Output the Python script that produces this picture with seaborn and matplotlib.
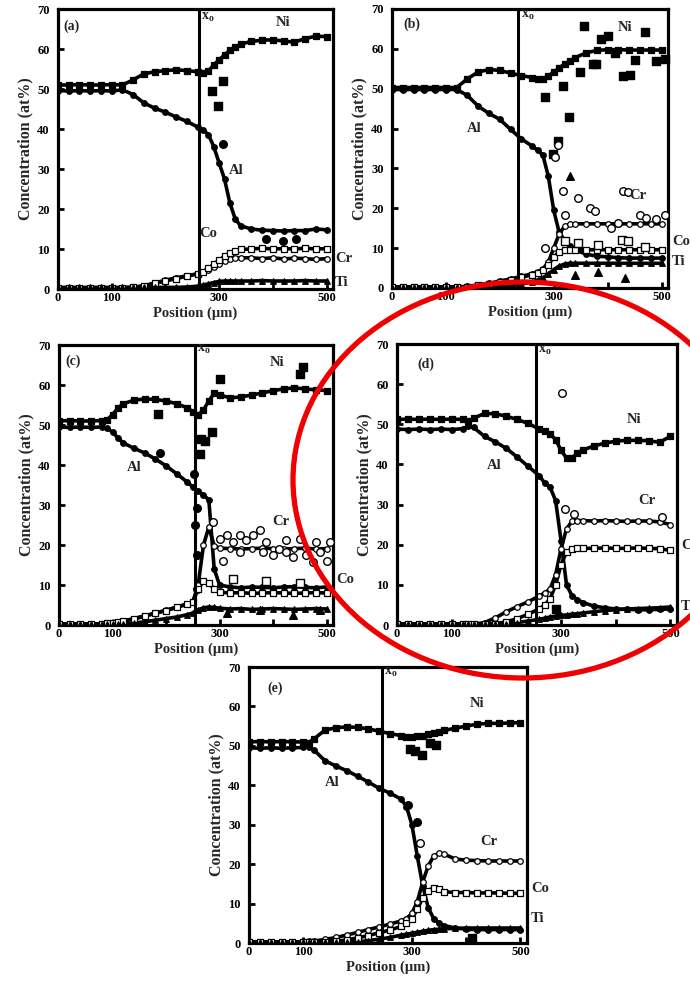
import matplotlib
matplotlib.use("Agg")
import matplotlib.pyplot as plt
import seaborn as sns
import pandas as pd
from matplotlib.patches import Ellipse

# ---------------- data ----------------
ELEMENTS = ["Ni", "Al", "Cr", "Co", "Ti"]
XTICK_LABELS = ["0", "100", "", "300", "", "500"]

# panel (a)
A_X = [0, 20, 40, 60, 80, 100, 120, 140, 160, 180, 200, 220, 240, 260, 270,
       280, 290, 300, 310, 320, 330, 340, 360, 380, 400, 420, 440, 460, 480, 500]
A_NI = [51.0, 51.0, 51.1, 51.0, 51.0, 51.1, 51.0, 52.3, 53.8, 54.3, 54.6, 54.8, 54.6, 54.3, 54.0,
        54.5, 56.0, 57.3, 58.5, 59.7, 60.5, 61.2, 61.9, 62.2, 62.3, 62.0, 61.7, 62.6, 63.2, 63.1]
A_AL = [49.6, 49.5, 49.6, 49.5, 49.6, 49.5, 49.8, 48.6, 46.5, 45.2, 44.2, 43.0, 41.9, 40.5, 39.8,
        38.6, 35.6, 31.5, 27.5, 21.5, 17.5, 15.8, 15.0, 14.7, 14.6, 14.5, 14.6, 14.6, 15.0, 14.8]
A_CR = [0.3, 0.3, 0.3, 0.3, 0.3, 0.3, 0.3, 0.4, 0.8, 1.5, 2.2, 2.8, 3.3, 3.8, 4.2,
        4.8, 5.5, 6.3, 7.0, 7.5, 7.8, 7.8, 7.8, 7.6, 7.8, 7.5, 7.7, 7.6, 7.4, 7.6]
A_CO = [0.3, 0.3, 0.3, 0.3, 0.3, 0.3, 0.3, 0.4, 0.8, 1.4, 2.0, 2.6, 3.2, 3.8, 4.3,
        5.2, 6.2, 7.2, 8.2, 9.0, 9.6, 9.9, 10.0, 10.2, 10.0, 10.1, 10.0, 10.2, 10.0, 10.1]
A_TI = [0.4, 0.4, 0.4, 0.4, 0.4, 0.4, 0.4, 0.4, 0.4, 0.4, 0.4, 0.4, 0.5, 0.7, 1.0,
        1.3, 1.6, 1.9, 2.0, 2.0, 2.0, 2.0, 2.0, 2.1, 2.0, 2.0, 2.0, 2.1, 2.0, 2.0]
A_OUT_EL = ["Ni", "Ni", "Ni", "Al", "Al", "Al", "Al"]
A_OUT_X = [287, 298, 307, 307, 388, 419, 444]
A_OUT_Y = [49.6, 45.8, 52.1, 36.2, 12.5, 12.1, 12.5]

# panel (b)
B_X = [0, 20, 40, 60, 80, 100, 120, 140, 160, 180, 200, 220, 240, 260, 270,
       280, 290, 300, 310, 320, 330, 340, 360, 380, 400, 420, 440, 460, 480, 500]
B_NI = [50.3, 50.3, 50.3, 50.3, 50.3, 50.3, 50.3, 52.5, 54.2, 54.8, 54.6, 53.9, 53.3, 52.8, 52.4,
        52.5, 53.2, 54.2, 55.2, 56.2, 57.0, 57.8, 59.0, 59.6, 59.8, 59.8, 59.7, 59.7, 59.7, 59.7]
B_AL = [49.8, 49.8, 49.8, 49.8, 49.8, 49.8, 49.8, 48.3, 45.6, 43.8, 42.3, 39.8, 37.4, 35.6, 34.6,
        33.3, 28.0, 19.5, 14.0, 12.0, 10.5, 9.5, 8.5, 8.0, 7.8, 7.6, 7.5, 7.5, 7.5, 7.5]
B_CR = [0.3, 0.3, 0.3, 0.3, 0.3, 0.3, 0.3, 0.4, 0.8, 1.2, 1.7, 2.3, 2.9, 3.6, 4.0,
        4.8, 6.5, 10.0, 13.5, 15.5, 16.0, 16.1, 16.1, 16.1, 16.1, 16.1, 16.1, 16.1, 16.1, 16.1]
B_CO = [0.3, 0.3, 0.3, 0.3, 0.3, 0.3, 0.3, 0.3, 0.7, 1.1, 1.6, 2.1, 2.7, 3.3, 3.7,
        4.4, 5.8, 7.8, 9.0, 9.5, 9.6, 9.6, 9.6, 9.6, 9.6, 9.6, 9.6, 9.6, 9.6, 9.6]
B_TI = [0.2, 0.2, 0.2, 0.2, 0.2, 0.2, 0.2, 0.2, 0.2, 0.2, 0.3, 0.5, 1.0, 1.5, 2.0,
        2.5, 3.5, 4.6, 5.5, 6.0, 6.2, 6.2, 6.2, 6.2, 6.2, 6.2, 6.2, 6.2, 6.2, 6.2]
B_OUT_EL = (["Ni"] * 18) + (["Cr"] * 16) + (["Ti"] * 4) + (["Co"] * 6)
B_OUT_X = [284, 318, 328, 299, 308, 357, 349, 373, 379, 387, 401, 429, 441, 450, 469, 490, 506, 413,
           318, 345, 321, 367, 376, 407, 419, 429, 438, 460, 472, 490, 506, 302, 308, 284,
           330, 339, 382, 432,
           321, 345, 382, 426, 438, 469]
B_OUT_Y = [48.0, 50.7, 42.9, 33.6, 37.0, 65.8, 54.1, 56.3, 56.3, 62.4, 63.2, 53.3, 53.5, 57.3, 64.2, 56.9, 57.5, 59.0,
           24.3, 22.7, 18.4, 20.1, 19.3, 15.0, 16.3, 24.3, 24.2, 18.4, 17.6, 17.2, 18.4, 32.8, 35.8, 10.0,
           28.1, 3.2, 4.1, 2.4,
           11.7, 11.2, 10.8, 12.1, 11.7, 10.4]

# panel (c)
C_X = [0, 20, 40, 60, 80, 90, 100, 110, 120, 140, 160, 180, 200, 220, 240, 250,
       260, 270, 280, 290, 300, 320, 340, 360, 380, 400, 420, 440, 460, 480, 500]
C_NI = [51.0, 51.1, 51.0, 51.0, 51.1, 51.3, 52.6, 54.2, 55.3, 56.2, 56.5, 56.4, 56.0, 55.3, 54.3, 53.3,
        52.5, 53.8, 56.0, 58.0, 57.5, 56.8, 57.0, 57.5, 58.0, 58.6, 59.0, 59.3, 59.0, 58.8, 58.6]
C_AL = [49.5, 49.4, 49.5, 49.4, 49.5, 49.2, 48.2, 46.8, 45.5, 44.2, 43.0, 41.5, 39.8, 37.8, 35.7, 34.5,
        33.5, 32.5, 31.3, 14.0, 10.0, 9.5, 9.3, 9.5, 9.4, 9.3, 9.5, 9.6, 9.4, 9.3, 9.5]
C_CR = [0.3, 0.3, 0.3, 0.3, 0.3, 0.4, 0.6, 0.8, 1.0, 1.6, 2.3, 3.0, 3.7, 4.5, 5.3, 5.8,
        10.0, 20.0, 24.5, 19.8, 19.2, 19.1, 19.0, 19.1, 19.2, 19.1, 19.0, 19.1, 19.2, 19.0, 19.1]
C_CO = [0.3, 0.3, 0.3, 0.3, 0.3, 0.4, 0.6, 0.8, 1.0, 1.5, 2.2, 2.9, 3.6, 4.4, 5.2, 5.7,
        9.0, 11.0, 10.5, 9.0, 8.2, 8.0, 8.1, 7.9, 8.0, 8.1, 8.0, 7.9, 8.0, 8.1, 8.0]
C_TI = [0.2, 0.2, 0.2, 0.2, 0.2, 0.2, 0.2, 0.2, 0.2, 0.5, 0.8, 1.2, 1.6, 2.0, 2.6, 3.0,
        3.8, 4.3, 4.5, 4.4, 4.2, 4.0, 4.1, 3.9, 4.0, 4.1, 4.0, 3.9, 4.0, 4.1, 4.0]
C_OUT_EL = (["Cr"] * 24) + (["Ni"] * 8) + (["Al"] * 6) + (["Co"] * 3) + (["Ti"] * 4)
C_OUT_X = [288, 300, 313, 325, 338, 350, 363, 375, 381, 387, 400, 412, 425, 437, 450, 462, 475, 487, 500,
           306, 338, 425, 481, 506,
           185, 263, 266, 272, 285, 300, 456, 450,
           188, 253, 255, 257, 258, 257,
           325, 387, 450,
           313, 375, 437, 487]
C_OUT_Y = [25.8, 21.6, 22.4, 20.7, 22.4, 21.2, 22.4, 23.7, 18.2, 20.7, 17.4, 19.1, 18.2, 16.9, 21.6, 17.4, 15.7, 18.2, 16.1,
           16.1, 18.2, 21.2, 20.7, 20.7,
           52.7, 42.8, 46.6, 46.1, 48.3, 61.4, 64.4, 62.7,
           42.9, 37.7, 25.0, 17.4, 8.9, 29.2,
           11.4, 11.0, 10.6,
           3.0, 3.8, 2.5, 3.8]

# panel (d)
D_X = [0, 20, 40, 60, 80, 100, 120, 130, 140, 160, 180, 200, 220, 240, 260, 270,
       280, 290, 300, 310, 320, 330, 340, 360, 380, 400, 420, 440, 460, 480, 500]
D_NI = [51.2, 51.3, 51.2, 51.3, 51.2, 51.3, 51.2, 50.8, 51.5, 52.7, 52.6, 52.0, 51.2, 50.2, 48.8, 48.4,
        47.6, 46.2, 43.5, 41.6, 41.6, 42.9, 43.6, 44.6, 45.3, 45.8, 46.0, 46.0, 45.9, 45.5, 47.0]
D_AL = [48.8, 48.7, 48.8, 48.7, 48.8, 48.7, 48.9, 49.5, 49.2, 47.0, 45.6, 44.0, 41.8, 39.5, 37.2, 35.4,
        34.3, 31.0, 21.0, 10.0, 7.3, 6.3, 5.6, 4.7, 4.3, 4.0, 3.9, 3.8, 3.8, 3.9, 4.0]
D_CR = [0.2, 0.2, 0.2, 0.2, 0.2, 0.2, 0.2, 0.2, 0.2, 0.6, 1.8, 3.3, 4.6, 5.8, 7.2, 8.0,
        9.0, 12.5, 19.0, 24.0, 25.8, 26.0, 26.0, 25.9, 26.0, 25.9, 25.8, 25.9, 25.9, 25.7, 25.0]
D_CO = [0.2, 0.2, 0.2, 0.2, 0.2, 0.2, 0.2, 0.2, 0.2, 0.2, 0.3, 0.8, 1.6, 2.7, 4.0, 5.0,
        6.5, 10.0, 15.0, 18.2, 19.0, 19.1, 19.1, 19.1, 19.2, 19.1, 19.1, 19.2, 19.1, 19.0, 18.6]
D_TI = [0.3, 0.3, 0.3, 0.3, 0.3, 0.3, 0.3, 0.3, 0.3, 0.3, 0.3, 0.3, 0.6, 1.0, 1.4, 1.7,
        2.0, 2.2, 2.4, 2.5, 2.7, 2.8, 3.0, 3.3, 3.6, 3.8, 4.0, 4.1, 4.2, 4.3, 4.5]
D_OUT_EL = ["Cr", "Cr", "Cr", "Cr", "Ni"]
D_OUT_X = [302, 308, 323, 485, 290]
D_OUT_Y = [57.7, 28.9, 27.7, 27.0, 4.0]

# panel (e)
E_X = [0, 20, 40, 60, 80, 100, 110, 120, 140, 160, 180, 200, 220, 240, 260, 280,
       290, 300, 310, 320, 330, 340, 350, 360, 380, 400, 420, 440, 460, 480, 500]
E_NI = [51.0, 51.1, 51.0, 51.1, 51.0, 51.0, 50.8, 51.8, 54.0, 54.6, 54.8, 54.7, 54.3, 53.7, 53.1, 52.6,
        52.3, 52.3, 52.4, 52.6, 52.9, 53.2, 53.5, 53.9, 54.5, 55.0, 55.5, 55.7, 55.7, 55.8, 55.9]
E_AL = [49.5, 49.4, 49.5, 49.4, 49.5, 49.6, 49.8, 48.9, 46.2, 44.9, 43.7, 42.3, 40.8, 39.2, 38.0, 36.5,
        34.6, 30.0, 22.0, 14.5, 9.0, 6.2, 5.0, 4.4, 3.8, 3.5, 3.4, 3.4, 3.4, 3.4, 3.4]
E_CR = [0.3, 0.3, 0.3, 0.3, 0.3, 0.3, 0.4, 0.5, 0.9, 1.4, 2.0, 2.7, 3.4, 4.1, 4.8, 5.6,
        6.2, 7.5, 10.5, 15.5, 19.5, 22.0, 22.8, 22.5, 21.3, 21.0, 20.9, 20.8, 20.8, 20.8, 20.8]
E_CO = [0.3, 0.3, 0.3, 0.3, 0.3, 0.3, 0.3, 0.3, 0.3, 0.4, 0.8, 1.3, 1.9, 2.6, 3.3, 4.2,
        5.0, 6.2, 8.5, 11.5, 13.3, 14.0, 13.6, 13.0, 12.8, 12.8, 12.7, 12.7, 12.7, 12.6, 12.6]
E_TI = [0.3, 0.3, 0.3, 0.3, 0.3, 0.3, 0.3, 0.3, 0.3, 0.3, 0.3, 0.3, 0.6, 1.0, 1.4, 2.0,
        2.2, 2.5, 2.7, 3.0, 3.2, 3.4, 3.5, 3.6, 3.7, 3.8, 3.8, 3.8, 3.8, 3.8, 3.8]
E_OUT_EL = ["Ni", "Ni", "Ni", "Ni", "Ni", "Ni", "Al", "Al", "Cr"]
E_OUT_X = [296, 305, 318, 333, 345, 410, 293, 309, 315]
E_OUT_Y = [49.3, 48.8, 47.6, 50.6, 50.1, 1.3, 35.1, 30.8, 25.3]

# position of the Matano plane x_o in each panel
X0 = [262, 234, 254, 254, 245]

# ---------------- style ----------------
sns.set_theme(style="white")
plt.rcParams["font.family"] = ["Liberation Serif", "DejaVu Serif"]
plt.rcParams["font.weight"] = "bold"
plt.rcParams["mathtext.default"] = "regular"

MARKERS = {"Ni": ("s", "black"), "Al": ("o", "black"), "Cr": ("o", "white"),
           "Co": ("s", "white"), "Ti": ("^", "black")}

fig = plt.figure(figsize=(6.9, 9.83), dpi=100)
fig.patch.set_facecolor("white")

W, H = 690.0, 983.0
boxes = [(58, 333, 9, 289), (392, 668, 9, 288), (59, 333, 345, 625),
         (397, 677, 344, 625), (249, 527, 667, 943)]

panels = [
    ("(a)", A_X, [A_NI, A_AL, A_CR, A_CO, A_TI], A_OUT_EL, A_OUT_X, A_OUT_Y),
    ("(b)", B_X, [B_NI, B_AL, B_CR, B_CO, B_TI], B_OUT_EL, B_OUT_X, B_OUT_Y),
    ("(c)", C_X, [C_NI, C_AL, C_CR, C_CO, C_TI], C_OUT_EL, C_OUT_X, C_OUT_Y),
    ("(d)", D_X, [D_NI, D_AL, D_CR, D_CO, D_TI], D_OUT_EL, D_OUT_X, D_OUT_Y),
    ("(e)", E_X, [E_NI, E_AL, E_CR, E_CO, E_TI], E_OUT_EL, E_OUT_X, E_OUT_Y),
]

# annotation positions (data coords) per panel: name -> (x, y, ha)
labels = [
    {"(a)": (26, 65.8, "center"), "Ni": (419, 66.5, "center"), "Al": (332, 29.6, "center"),
     "Co": (279, 13.8, "center"), "Cr": (516, 7.5, "left"), "Ti": (516, 1.7, "left"), "x0": (278, 68.0)},
    {"(b)": (37, 66.2, "center"), "Ni": (433, 65.3, "center"), "Al": (153, 40.0, "center"),
     "Cr": (456, 23.1, "center"), "Co": (519, 11.7, "left"), "Ti": (519, 6.6, "left"), "x0": (252, 68.3)},
    {"(c)": (26, 66.0, "center"), "Ni": (407, 65.6, "center"), "Al": (141, 39.4, "center"),
     "Cr": (415, 25.8, "center"), "Co": (519, 11.4, "left"), "x0": (270, 69.0)},
    {"(d)": (52, 65.0, "center"), "Ni": (433, 51.1, "center"), "Al": (177, 39.8, "center"),
     "Cr": (457, 31.0, "center"), "Co": (519, 19.7, "left"), "Ti": (519, 4.6, "left"), "x0": (271, 68.3)},
    {"(e)": (49, 64.7, "center"), "Ni": (420, 60.8, "center"), "Al": (154, 40.7, "center"),
     "Cr": (441, 25.7, "center"), "Co": (519, 13.8, "left"), "Ti": (519, 6.1, "left"), "x0": (261, 68.5)},
]

for i, (tag, xs, series, oel, ox, oy) in enumerate(panels):
    l, r, t, b = boxes[i]
    ax = fig.add_axes([l / W, 1 - b / H, (r - l) / W, (b - t) / H])
    ax.set_facecolor("white")

    rows = []
    for el, ys in zip(ELEMENTS, series):
        for x, y in zip(xs, ys):
            rows.append((el, x, y))
    df = pd.DataFrame(rows, columns=["element", "position", "conc"])
    out = pd.DataFrame({"element": oel, "position": ox, "conc": oy})

    for el in ELEMENTS:
        sub = df[df["element"] == el]
        sns.lineplot(data=sub, x="position", y="conc", color="black", lw=2.6,
                     estimator=None, sort=False, ax=ax, zorder=2)
    for el in ELEMENTS:
        m, fc = MARKERS[el]
        sub = df[df["element"] == el]
        sns.scatterplot(data=sub, x="position", y="conc", marker=m, color=fc,
                        edgecolor="black", linewidth=0.9, s=16, ax=ax, zorder=3, legend=False)
        osub = out[out["element"] == el]
        if len(osub):
            sns.scatterplot(data=osub, x="position", y="conc", marker=m, color=fc,
                            edgecolor="black", linewidth=1.0, s=30, ax=ax, zorder=3,
                            legend=False, clip_on=False)

    ax.axvline(X0[i], color="black", lw=2.2, zorder=4)

    ax.set_xlim(0, 512)
    ax.set_ylim(0, 70)
    ax.set_xticks([0, 100, 200, 300, 400, 500])
    ax.set_xticklabels(XTICK_LABELS)
    ax.set_yticks(range(0, 80, 10))
    ax.tick_params(axis="both", direction="in", length=4, width=2, colors="black",
                   labelsize=9, bottom=True, left=True)
    ax.tick_params(axis="y", pad=6)
    ax.tick_params(axis="x", pad=2)
    for sp in ax.spines.values():
        sp.set_linewidth(2.3)
        sp.set_color("black")
    ax.set_xlabel("Position (\u00b5m)", fontsize=10.5, fontweight="bold", labelpad=2)
    ax.set_ylabel("Concentration (at%)", fontsize=11.5, fontweight="bold", labelpad=3)

    for name, pos in labels[i].items():
        if name == "x0":
            ax.text(pos[0], pos[1], r"x$_{o}$", fontsize=10, fontweight="bold",
                    ha="center", va="center", zorder=5)
        else:
            x, y, ha = pos
            ax.text(x, y, name, fontsize=10 if name.startswith("(") else 10.5,
                    fontweight="bold", ha=ha, va="center", clip_on=False, zorder=5)

# red highlight ellipse around panel (d)
ell = Ellipse((523 / W, 1 - 480 / H), width=460 / W, height=396 / H,
              transform=fig.transFigure, fill=False, edgecolor="#f00000", lw=3.8, zorder=10)
fig.add_artist(ell)

fig.savefig("out.png", dpi=100, facecolor="white")
